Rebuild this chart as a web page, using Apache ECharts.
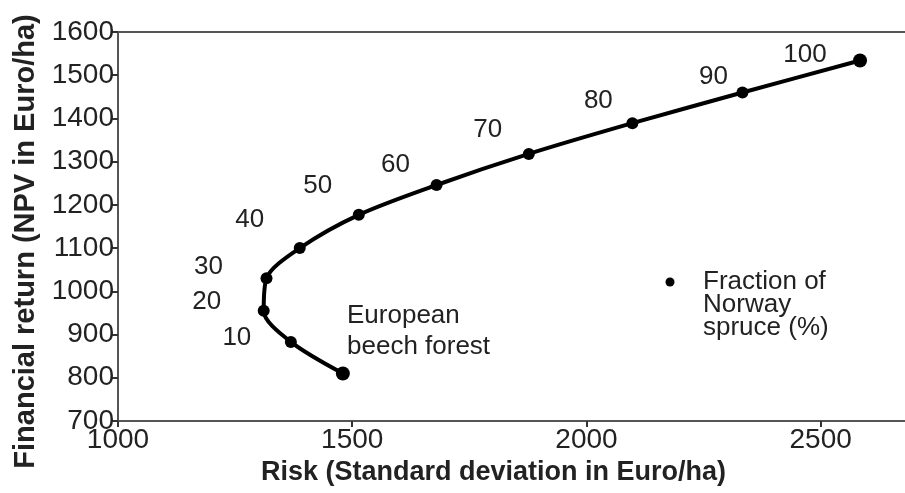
<!DOCTYPE html>
<html>
<head>
<meta charset="utf-8">
<script src="https://cdn.jsdelivr.net/npm/echarts@6/dist/echarts.min.js"></script>
<style>
html,body{margin:0;padding:0;background:#fff;}
#chart{width:905px;height:493px;}
</style>
</head>
<body>
<div id="chart"></div>
<script>
// Data
const spruceFraction = [0, 10, 20, 30, 40, 50, 60, 70, 80, 90, 100];
const riskSD = [1480, 1369, 1311, 1317, 1388, 1514, 1680, 1877, 2098, 2333, 2584];
const npvReturn = [810, 883, 955, 1030, 1100, 1177, 1246, 1318, 1389, 1460, 1534];
const xAxisRange = [1000, 2680];
const yAxisRange = [700, 1600];
const xTitle = 'Risk (Standard deviation in Euro/ha)';
const yTitle = 'Financial return (NPV in Euro/ha)';
const beechLabel = 'European\nbeech forest';
const legendLabel = 'Fraction of\nNorway\nspruce (%)';

// Label placement (style only)
const labelOffsets = [[0,0],[-54,-4],[-57,-9],[-58,-12],[-50,-28],[-41,-29],[-41,-20],[-41,-24],[-34,-22],[-29,-16],[-55,-6]];

const FONT = 'Liberation Sans, Arial, Helvetica, sans-serif';
const chart = echarts.init(document.getElementById('chart'), null, {renderer: 'canvas'});

const points = riskSD.map((x, i) => {
  const isEnd = i === 0 || i === riskSD.length - 1;
  return {
    value: [x, npvReturn[i], spruceFraction[i]],
    symbolSize: isEnd ? 14 : 12,
    label: {
      show: i > 0,
      position: 'inside',
      offset: labelOffsets[i],
      formatter: String(spruceFraction[i]),
      color: '#222',
      fontSize: 26,
      fontFamily: FONT
    }
  };
});

const axisLineStyle = {color: '#555', width: 2};

chart.setOption({
  animation: false,
  backgroundColor: '#fff',
  grid: {left: 118, right: 0, top: 32, bottom: 72},
  xAxis: [{
    type: 'value', min: xAxisRange[0], max: xAxisRange[1], interval: 500,
    name: xTitle, nameLocation: 'middle', nameGap: 34,
    nameTextStyle: {fontFamily: FONT, fontSize: 27, fontWeight: 'bold', color: '#222', padding: [0, 36, 0, 0]},
    axisLine: {show: true, lineStyle: axisLineStyle},
    axisTick: {show: true, length: 6, lineStyle: {color: '#333', width: 2}},
    axisLabel: {fontFamily: FONT, fontSize: 28, color: '#222', margin: 5, showMaxLabel: false, formatter: v => String(v)},
    splitLine: {show: false}
  }, {
    type: 'value', position: 'top', min: xAxisRange[0], max: xAxisRange[1], interval: 500,
    axisLine: {show: true, lineStyle: axisLineStyle},
    axisTick: {show: false}, axisLabel: {show: false}, splitLine: {show: false}
  }],
  yAxis: {
    type: 'value', min: yAxisRange[0], max: yAxisRange[1], interval: 100,
    name: yTitle, nameLocation: 'middle', nameGap: 72,
    nameTextStyle: {fontFamily: FONT, fontSize: 29, fontWeight: 'bold', color: '#222', padding: [0, 30, 0, 0]},
    axisLine: {show: true, lineStyle: axisLineStyle},
    axisTick: {show: true, length: 6, lineStyle: {color: '#333', width: 2}},
    axisLabel: {fontFamily: FONT, fontSize: 28, color: '#222', margin: 4, formatter: v => String(v)},
    splitLine: {show: false}
  },
  series: [{
    type: 'line',
    data: points,
    smooth: 0.3,
    symbol: 'circle',
    showAllSymbol: true,
    itemStyle: {color: '#000'},
    lineStyle: {color: '#000', width: 4},
    z: 3
  }],
  graphic: [
    {type: 'text', left: 347, top: 300, style: {text: beechLabel, font: '26px ' + FONT, fill: '#222', lineHeight: 31}},
    {type: 'circle', shape: {cx: 670, cy: 282, r: 4.5}, style: {fill: '#000'}},
    {type: 'text', left: 703, top: 269, style: {text: legendLabel, font: '26px ' + FONT, fill: '#222', lineHeight: 23}}
  ]
});
</script>
</body>
</html>
